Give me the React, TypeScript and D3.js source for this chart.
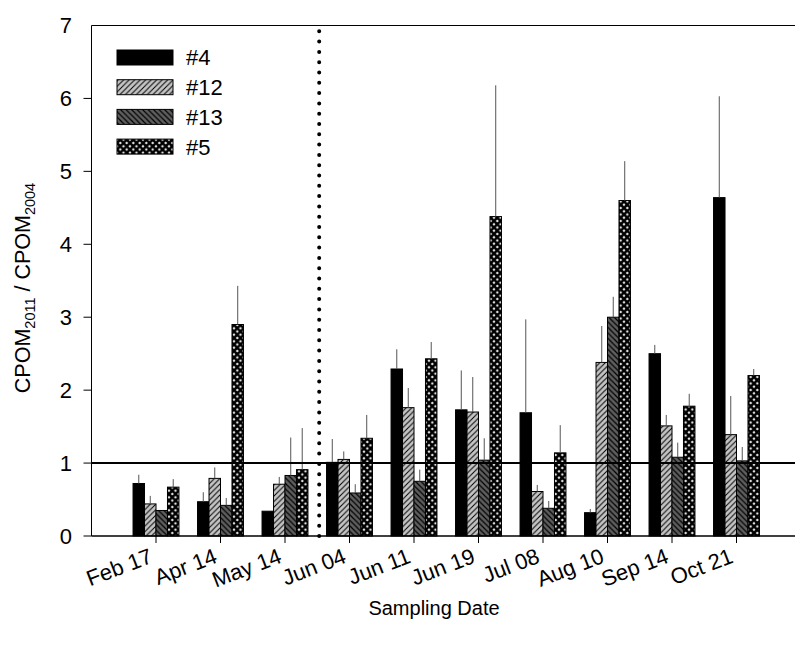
import React from "react";
import * as d3 from "d3";

// Sampling dates (x categories)
const categories = ["Feb 17", "Apr 14", "May 14", "Jun 04", "Jun 11", "Jun 19", "Jul 08", "Aug 10", "Sep 14", "Oct 21"];

// Series names
const seriesNames = ["#4", "#12", "#13", "#5"];

// CPOM2011 / CPOM2004 ratios per site
const site4 = [0.72, 0.47, 0.34, 1.01, 2.29, 1.73, 1.69, 0.32, 2.5, 4.64];
const site12 = [0.44, 0.79, 0.71, 1.05, 1.76, 1.7, 0.61, 2.38, 1.51, 1.39];
const site13 = [0.35, 0.42, 0.83, 0.59, 0.75, 1.04, 0.38, 3.0, 1.08, 1.03];
const site5 = [0.67, 2.9, 0.91, 1.34, 2.43, 4.38, 1.14, 4.6, 1.78, 2.2];

// Upper error (SE) per site
const err4 = [0.12, 0.13, 0, 0.32, 0.27, 0.54, 1.28, 0.05, 0.12, 1.39];
const err12 = [0.11, 0.15, 0.1, 0.11, 0.27, 0.48, 0.09, 0.5, 0.15, 0.53];
const err13 = [0, 0.1, 0.52, 0.12, 0.16, 0.3, 0.1, 0.28, 0.2, 0.19];
const err5 = [0.11, 0.53, 0.57, 0.32, 0.23, 1.8, 0.38, 0.54, 0.17, 0.09];

const yTicks = [0, 1, 2, 3, 4, 5, 6, 7];
const referenceValue = 1;
const dividerPosition = 3.53;

const values = [site4, site12, site13, site5];
const errors = [err4, err12, err13, err5];
const fills = ["#000000", "url(#hatch12)", "url(#hatch13)", "url(#cross5)"];

const W = 795;
const H = 651;
const FONT = "'Liberation Sans', Arial, sans-serif";

export default function App() {
  const x = d3.scaleLinear().domain([0, 11]).range([91.5, 91.5 + 64.5 * 11]);
  const y = d3.scaleLinear().domain([0, 7]).range([536, 25.5]);
  const step = x(1) - x(0);
  const barW = step * 0.178;
  const groupW = barW * seriesNames.length;

  return (
    <svg
      width={W}
      height={H}
      style={{ position: "absolute", left: 0, top: 0, background: "#fff" }}
      fontFamily={FONT}
    >
      <defs>
        <pattern id="hatch12" patternUnits="userSpaceOnUse" width={5.5} height={5.5}>
          <rect width={5.5} height={5.5} fill="#c4c4c4" />
          <path d="M-1,1 l2,-2 M0,5.5 l5.5,-5.5 M4.5,6.5 l2,-2" stroke="#000" strokeWidth={1} />
        </pattern>
        <pattern id="hatch13" patternUnits="userSpaceOnUse" width={5.5} height={5.5}>
          <rect width={5.5} height={5.5} fill="#5e5e5e" />
          <path d="M-1,4.5 l2,2 M0,0 l5.5,5.5 M4.5,-1 l2,2" stroke="#000" strokeWidth={1.2} />
        </pattern>
        <pattern id="cross5" patternUnits="userSpaceOnUse" width={6.5} height={6.5}>
          <rect width={6.5} height={6.5} fill="#fff" />
          <path d="M0,0 L6.5,6.5 M0,6.5 L6.5,0" stroke="#000" strokeWidth={2.6} />
        </pattern>
      </defs>

      {/* bars */}
      {values.map((vals, s) => (
        <g key={s}>
          {vals.map((v, i) => {
            const x0 = x(i + 1) - groupW / 2 + s * barW;
            return (
              <rect
                key={i}
                x={x0}
                y={y(v)}
                width={barW}
                height={y(0) - y(v)}
                fill={fills[s]}
                stroke="#000"
                strokeWidth={1}
              />
            );
          })}
        </g>
      ))}

      {/* upper error bars */}
      {values.map((vals, s) => (
        <g key={"e" + s}>
          {vals.map((v, i) => {
            const e = errors[s][i];
            if (!e) return null;
            const cx = x(i + 1) - groupW / 2 + (s + 0.5) * barW;
            return <line key={i} x1={cx} x2={cx} y1={y(v)} y2={y(v + e)} stroke="#555" strokeWidth={1} />;
          })}
        </g>
      ))}

      {/* reference line at ratio = 1 */}
      <line x1={x(0)} x2={W} y1={y(referenceValue)} y2={y(referenceValue)} stroke="#000" strokeWidth={2} />

      {/* period divider */}
      <line
        x1={x(dividerPosition)}
        x2={x(dividerPosition)}
        y1={y(0)}
        y2={y(7)}
        stroke="#000"
        strokeWidth={4}
        strokeLinecap="round"
        strokeDasharray="0 10.3"
      />

      {/* axes frame */}
      <line x1={x(0)} x2={x(0)} y1={y(0)} y2={y(7)} stroke="#000" strokeWidth={1} />
      <line x1={x(0)} x2={W} y1={y(7)} y2={y(7)} stroke="#000" strokeWidth={1} />
      <line x1={x(0)} x2={W} y1={y(0)} y2={y(0)} stroke="#000" strokeWidth={1.5} />

      {/* y ticks */}
      {yTicks.map((t) => (
        <g key={t}>
          {t < 7 && <line x1={x(0) - 8} x2={x(0)} y1={y(t)} y2={y(t)} stroke="#000" strokeWidth={1} />}
          <text x={72} y={y(t)} dy="0.36em" textAnchor="end" fontSize={22}>
            {t}
          </text>
        </g>
      ))}

      {/* x ticks and labels */}
      {categories.map((c, i) => (
        <g key={c}>
          <line x1={x(i + 1)} x2={x(i + 1)} y1={y(0)} y2={y(0) + 7} stroke="#000" strokeWidth={1} />
          <text
            transform={`translate(${x(i + 1) - 2},${562}) rotate(-21)`}
            textAnchor="end"
            fontSize={22}
          >
            {c}
          </text>
        </g>
      ))}

      {/* axis titles */}
      <text x={434} y={615} textAnchor="middle" fontSize={20}>
        Sampling Date
      </text>
      <text transform="translate(30,288) rotate(-90)" textAnchor="middle" fontSize={21.5}>
        CPOM
        <tspan dy={5} fontSize={14.5}>2011</tspan>
        <tspan dy={-5}> / CPOM</tspan>
        <tspan dy={5} fontSize={14.5}>2004</tspan>
      </text>

      {/* legend */}
      {seriesNames.map((n, s) => {
        const ly = 50 + s * 29.7;
        return (
          <g key={n}>
            <rect x={117} y={ly} width={56} height={15} fill={fills[s]} stroke="#000" strokeWidth={1} />
            <text x={186} y={ly + 7.5} dy="0.36em" fontSize={22}>
              {n}
            </text>
          </g>
        );
      })}
    </svg>
  );
}
